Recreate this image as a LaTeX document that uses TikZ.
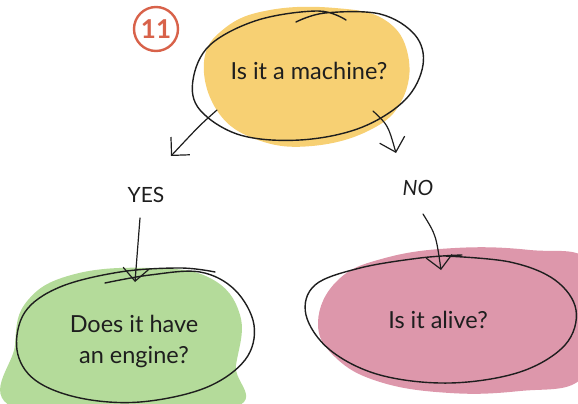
\documentclass[tikz,border=0pt]{standalone}
\usepackage{fontspec}
\setmainfont{Lato}
\usetikzlibrary{arrows.meta}
\definecolor{blobY}{HTML}{F7D073}
\definecolor{blobG}{HTML}{B4DB9A}
\definecolor{blobP}{HTML}{DD97AB}
\definecolor{numC}{HTML}{D8624A}
\definecolor{ink}{HTML}{1E1E1E}
\begin{document}
\begin{tikzpicture}[x=1pt,y=-1pt,line cap=round,line join=round,
  outline/.style={draw=ink,line width=1.4pt},
  arr/.style={draw=ink,line width=1.2pt,-{Straight Barb[length=13pt,width=26pt]}},
  lbl/.style={font=\fontsize{23.5}{31}\selectfont,text=ink,align=center,inner sep=0pt},
  ans/.style={font=\fontsize{21}{22}\selectfont,text=ink,inner sep=0pt}]
\useasboundingbox (0,0) rectangle (578,404);
% blobs
\fill[blobY] plot[smooth cycle,tension=0.7] coordinates {(204,62) (225,28) (270,10) (335,8) (385,20) (408,55) (402,100) (370,130) (312,146) (258,140) (218,112)};
\fill[blobG] plot[smooth cycle,tension=0.7] coordinates {(15,345) (28,300) (75,274) (150,268) (210,278) (240,315) (236,365) (225,410) (20,410)};
\fill[blobP] plot[smooth cycle,tension=0.7] coordinates {(318,322) (338,280) (385,258) (455,248) (530,250) (590,262) (592,330) (580,380) (520,391) (450,393) (380,382) (335,357)};
% outlines
\draw[outline] plot[smooth,tension=0.6] coordinates {(296,22) (325,13) (380,14) (415,35) (423,65) (405,100) (360,128) (300,140) (240,135) (200,110) (193,80) (210,45) (258,20) (318,11) (346,20)};
\draw[outline] plot[smooth,tension=0.6] coordinates {(105,283) (150,275) (200,272) (235,290) (254,325) (245,360) (205,388) (140,402) (80,398) (35,380) (17,350) (25,312) (60,287) (120,272) (180,268) (215,272)};
\draw[outline] plot[smooth,tension=0.6] coordinates {(445,256) (510,262) (555,280) (576,310) (565,345) (520,372) (450,383) (380,375) (330,350) (306,315) (315,285) (360,268) (420,258) (462,255)};
% number badge
\node[circle,draw=numC,line width=2.4pt,minimum size=44pt,inner sep=0pt,text=numC,font=\fontsize{26}{26}\selectfont\bfseries] (num) at (156,29) {11};
% texts
\node[lbl] (q1) at (309,71) {Is it a machine?};
\node[lbl] (q2) at (134,341) {Does it have\\an engine?};
\node[lbl] (q3) at (438,320) {Is it alive?};
\node[ans] (yes) at (146,195) {YES};
\node[ans,font=\fontsize{21}{22}\selectfont\itshape] (no) at (418,188) {NO};
% connector end points
\coordinate (a1s) at (217,110);
\coordinate (a1e) at (171,156);
\coordinate (a2s) at (373,111);
\coordinate (a2e) at (396,153);
\coordinate (a3s) at (140,218);
\coordinate (a3e) at (135,282);
\coordinate (a4s) at (423,214);
\coordinate (a4e) at (441,270);
\draw[arr] (a1s) .. controls (200,125) .. (a1e);
\draw[arr] (a2s) .. controls (388,125) .. (a2e);
\draw[arr] (a3s) -- (a3e);
\draw[arr] (a4s) .. controls (436,235) .. (a4e);
\end{tikzpicture}
\end{document}
